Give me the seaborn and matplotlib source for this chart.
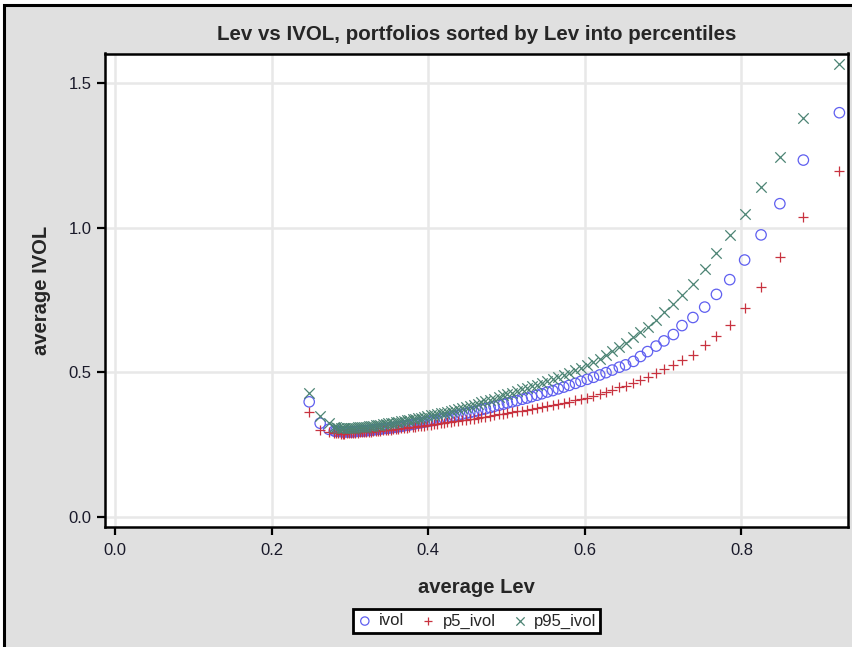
import matplotlib
matplotlib.use("Agg")
import matplotlib.pyplot as plt
from matplotlib.patches import Rectangle
import pandas as pd
import seaborn as sns

# -- Data (one point per Lev percentile portfolio) ----------------------------
avg_lev = [
    0.248, 0.262, 0.273,
    0.280, 0.282, 0.285, 0.288, 0.291, 0.293, 0.296, 0.299, 0.302, 0.304,
    0.307, 0.310, 0.313, 0.316, 0.318, 0.321, 0.324, 0.327, 0.330, 0.333,
    0.336, 0.339, 0.342, 0.346, 0.349, 0.352, 0.355, 0.359, 0.362, 0.365,
    0.369, 0.373, 0.376, 0.380, 0.383, 0.387, 0.391, 0.395, 0.399, 0.403,
    0.407, 0.411, 0.416, 0.420, 0.424, 0.429, 0.433, 0.438, 0.443, 0.448,
    0.453, 0.458, 0.463, 0.468, 0.473, 0.479, 0.484, 0.490, 0.496, 0.501,
    0.507, 0.513, 0.520, 0.526, 0.532, 0.539, 0.545, 0.552, 0.559, 0.566,
    0.573, 0.580, 0.588, 0.595, 0.603, 0.611, 0.619, 0.627,
    0.635, 0.644, 0.652, 0.662, 0.671, 0.680, 0.691, 0.701, 0.713, 0.724,
    0.738, 0.753, 0.768, 0.785, 0.804, 0.825, 0.849, 0.879, 0.925,
]
ivol = [
    0.397, 0.323, 0.302,
    0.296, 0.295, 0.295, 0.294, 0.293, 0.293, 0.293, 0.293, 0.293, 0.294,
    0.294, 0.295, 0.296, 0.296, 0.297, 0.297, 0.298, 0.299, 0.300, 0.301,
    0.302, 0.303, 0.304, 0.305, 0.306, 0.307, 0.308, 0.310, 0.311, 0.312,
    0.314, 0.316, 0.317, 0.319, 0.321, 0.323, 0.325, 0.327, 0.329, 0.331,
    0.333, 0.335, 0.338, 0.340, 0.342, 0.345, 0.348, 0.351, 0.354, 0.357,
    0.360, 0.363, 0.366, 0.370, 0.373, 0.377, 0.381, 0.385, 0.389, 0.393,
    0.397, 0.401, 0.406, 0.410, 0.415, 0.420, 0.425, 0.431, 0.436, 0.442,
    0.448, 0.454, 0.461, 0.468, 0.475, 0.482, 0.490, 0.498,
    0.507, 0.517, 0.525, 0.537, 0.554, 0.571, 0.590, 0.608, 0.630, 0.661,
    0.689, 0.725, 0.769, 0.820, 0.888, 0.975, 1.083, 1.234, 1.398,
]
p5_ivol = [
    0.363, 0.300, 0.294,
    0.288, 0.288, 0.288, 0.287, 0.287, 0.287, 0.288, 0.288, 0.288, 0.289,
    0.289, 0.290, 0.291, 0.291, 0.292, 0.292, 0.293, 0.294, 0.295, 0.295,
    0.296, 0.297, 0.298, 0.299, 0.300, 0.301, 0.302, 0.303, 0.304, 0.305,
    0.306, 0.308, 0.309, 0.310, 0.311, 0.312, 0.314, 0.315, 0.317, 0.318,
    0.319, 0.321, 0.323, 0.324, 0.326, 0.328, 0.329, 0.331, 0.333, 0.335,
    0.337, 0.339, 0.341, 0.344, 0.346, 0.349, 0.351, 0.354, 0.356, 0.358,
    0.361, 0.364, 0.367, 0.370, 0.373, 0.377, 0.380, 0.383, 0.387, 0.390,
    0.394, 0.398, 0.403, 0.407, 0.412, 0.418, 0.423, 0.430,
    0.437, 0.447, 0.452, 0.461, 0.473, 0.484, 0.496, 0.510, 0.525, 0.542,
    0.559, 0.594, 0.625, 0.664, 0.722, 0.796, 0.897, 1.038, 1.196,
]
p95_ivol = [
    0.427, 0.348, 0.325,
    0.310, 0.309, 0.308, 0.308, 0.307, 0.307, 0.307, 0.307, 0.307, 0.308,
    0.308, 0.309, 0.310, 0.310, 0.311, 0.311, 0.312, 0.314, 0.315, 0.316,
    0.317, 0.318, 0.319, 0.321, 0.322, 0.323, 0.325, 0.327, 0.328, 0.329,
    0.331, 0.333, 0.335, 0.337, 0.339, 0.340, 0.342, 0.345, 0.347, 0.350,
    0.352, 0.355, 0.358, 0.360, 0.363, 0.366, 0.369, 0.373, 0.376, 0.380,
    0.384, 0.387, 0.391, 0.395, 0.399, 0.404, 0.408, 0.413, 0.419, 0.423,
    0.428, 0.434, 0.440, 0.445, 0.451, 0.457, 0.463, 0.469, 0.476, 0.483,
    0.491, 0.498, 0.507, 0.515, 0.525, 0.536, 0.547, 0.560,
    0.572, 0.587, 0.600, 0.620, 0.639, 0.657, 0.681, 0.707, 0.737, 0.767,
    0.804, 0.857, 0.912, 0.975, 1.048, 1.142, 1.246, 1.381, 1.567,
]

x_ticks = [0.0, 0.2, 0.4, 0.6, 0.8]
y_ticks = [0.0, 0.5, 1.0, 1.5]

series_names = ["ivol", "p5_ivol", "p95_ivol"]
series_markers = ["o", "+", "x"]
series_colors = ["#5f5ff0", "#c8323f", "#4c8474"]

df = pd.DataFrame({"avg_lev": avg_lev, "ivol": ivol,
                   "p5_ivol": p5_ivol, "p95_ivol": p95_ivol})

# -- Style ----------------------------------------------------------------------
sns.set_theme(style="white")
plt.rcParams["font.family"] = ["Liberation Sans", "DejaVu Sans"]

W, H = 853, 647
fig = plt.figure(figsize=(W / 100, H / 100), dpi=100, facecolor="white")

# gray graph background with the black frame on top / left
fig.patches.append(Rectangle((4.5 / W, -0.05), 1.2, 1 - 4.5 / H + 0.05,
                             transform=fig.transFigure, facecolor="#e0e0e0",
                             edgecolor="black", linewidth=2.2, zorder=-10))

ax = fig.add_axes([105.5 / W, 1 - 526.7 / H, (848 - 105.5) / W, (526.7 - 53.5) / H])
ax.set_facecolor("white")

for name, mk, col in zip(series_names, series_markers, series_colors):
    if mk == "o":
        sns.scatterplot(data=df, x="avg_lev", y=name, ax=ax, marker=mk, s=56,
                        color=col, facecolor="none", edgecolor=col,
                        linewidth=0.9, label=name, zorder=3)
    else:
        sns.scatterplot(data=df, x="avg_lev", y=name, ax=ax, marker=mk, s=56,
                        color=col, linewidth=0.9, label=name, zorder=3)

ax.set_xlim(-0.0121, 0.936)
ax.set_ylim(-0.0353, 1.603)
ax.set_xticks(x_ticks)
ax.set_yticks(y_ticks)
ax.set_xticklabels([f"{t:.1f}" for t in x_ticks])
ax.set_yticklabels([f"{t:.1f}" for t in y_ticks])
ax.grid(True, color="#e8e8e8", linewidth=1.8, zorder=0)
ax.set_axisbelow(True)
for sp in ax.spines.values():
    sp.set_color("black")
    sp.set_linewidth(1.8)
ax.tick_params(axis="both", which="major", direction="out", length=6,
               width=1.6, color="black", labelsize=12, labelcolor="#1a1a2a", pad=4)
ax.tick_params(axis="x", pad=6)
ax.tick_params(axis="both", bottom=True, left=True, top=False, right=False)

ax.set_xlabel("average Lev", fontsize=14.5, fontweight="bold", labelpad=14)
ax.set_ylabel("average IVOL", fontsize=14.5, fontweight="bold", labelpad=13)
ax.set_title("Lev vs IVOL, portfolios sorted by Lev into percentiles",
             fontsize=14.8, fontweight="bold", pad=10)

handles, labels = ax.get_legend_handles_labels()
leg = ax.legend(handles, labels, loc="center", ncol=3,
                bbox_to_anchor=(476.8 / W, 1 - 621 / H), bbox_transform=fig.transFigure,
                frameon=True, fancybox=False, edgecolor="black", facecolor="white",
                framealpha=1, fontsize=12, markerscale=0.8, handlelength=0.9,
                handletextpad=0.4, columnspacing=1.0, borderpad=0.25,
                borderaxespad=0)
leg.get_frame().set_linewidth(2.0)

fig.savefig("out.png", dpi=100, facecolor=fig.get_facecolor())
